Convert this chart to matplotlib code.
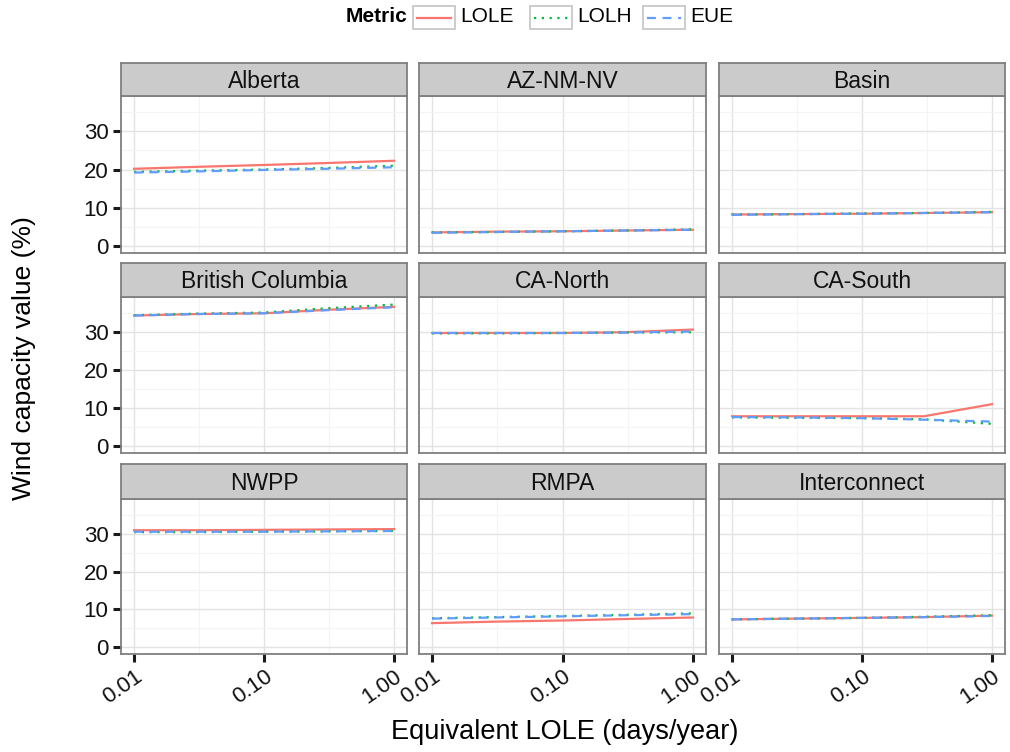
import matplotlib
matplotlib.use('Agg')
import matplotlib.pyplot as plt
from matplotlib.lines import Line2D
from matplotlib.patches import Rectangle

plt.rcParams['font.family'] = ['Liberation Sans', 'DejaVu Sans']

# equivalent LOLE levels (days/year)
lole_x = [0.01, 0.03, 0.1, 0.3, 1.0]
regions = ['Alberta', 'AZ-NM-NV', 'Basin',
           'British Columbia', 'CA-North', 'CA-South',
           'NWPP', 'RMPA', 'Interconnect']

# wind capacity value (%) per region, one list per metric
lole = [[20.2, 20.7, 21.2, 21.7, 22.3],
        [3.5, 3.7, 3.8, 4.0, 4.2],
        [8.2, 8.3, 8.4, 8.6, 8.8],
        [34.4, 34.8, 35.0, 35.9, 36.7],
        [29.8, 29.8, 29.8, 30.0, 30.7],
        [7.8, 7.8, 7.8, 7.8, 11.0],
        [31.0, 31.0, 31.1, 31.2, 31.3],
        [6.3, 6.7, 7.0, 7.4, 7.8],
        [7.3, 7.5, 7.7, 7.9, 8.3]]
lolh = [[19.4, 19.7, 20.0, 20.4, 21.0],
        [3.5, 3.6, 3.8, 4.0, 4.3],
        [8.2, 8.3, 8.5, 8.6, 8.9],
        [34.5, 34.9, 35.2, 36.3, 37.3],
        [29.7, 29.7, 29.8, 29.9, 30.0],
        [7.5, 7.4, 7.3, 7.0, 5.8],
        [30.5, 30.5, 30.6, 30.7, 30.8],
        [7.6, 7.9, 8.2, 8.5, 8.9],
        [7.3, 7.5, 7.7, 8.0, 8.4]]
eue = [[19.2, 19.5, 19.9, 20.2, 20.6],
       [3.4, 3.6, 3.8, 4.0, 4.2],
       [8.1, 8.3, 8.4, 8.6, 8.8],
       [34.4, 34.8, 35.0, 35.8, 36.6],
       [29.8, 29.8, 29.8, 29.9, 30.2],
       [7.6, 7.5, 7.3, 6.9, 6.4],
       [30.6, 30.6, 30.6, 30.7, 30.8],
       [7.5, 7.8, 8.1, 8.4, 8.7],
       [7.3, 7.5, 7.7, 7.9, 8.2]]

metrics = ['LOLE', 'LOLH', 'EUE']
colors = ['#F8766D', '#00BA38', '#619CFF']
styles = ['-', (0, (1, 2.5)), (0, (4, 3))]

W, H = 1010, 752
fig = plt.figure(figsize=(W / 100, H / 100), dpi=100)

def box(x0, y0, x1, y1):
    # pixel box (top-left origin) -> figure fraction
    return [x0 / W, 1 - y1 / H, (x1 - x0) / W, (y1 - y0) / H]

cols = [(121, 407), (419, 706), (719, 1005)]
rows = [(63, 96, 253), (263, 297, 453), (464, 499, 654)]

for i, name in enumerate(regions):
    r, c = divmod(i, 3)
    x0, x1 = cols[c]
    st, pt, pb = rows[r]

    ax = fig.add_axes(box(x0, pt, x1, pb))
    for vals, col, ls in zip([lole[i], lolh[i], eue[i]], colors, styles):
        ax.plot(lole_x, vals, color=col, ls=ls, lw=1.6)
    ax.set_xscale('log')
    ax.set_xlim(10 ** -2.1, 10 ** 0.1)
    ax.set_ylim(-1.9, 39.3)
    ax.set_xticks([0.01, 0.1, 1.0])
    ax.set_xticks([10 ** -1.5, 10 ** -0.5], minor=True)
    ax.set_yticks([0, 10, 20, 30])
    ax.set_yticks([5, 15, 25, 35], minor=True)
    ax.grid(True, which='major', color='#E3E3E3', lw=1.0)
    ax.grid(True, which='minor', color='#F4F4F4', lw=0.8)
    ax.set_axisbelow(True)
    for s in ax.spines.values():
        s.set_color('#7F7F7F')
        s.set_linewidth(1.3)
    ax.tick_params(which='minor', length=0)
    ax.tick_params(which='major', length=6, width=2.2, color='#1A1A1A',
                   labelsize=16, labelcolor='#111111', pad=3)
    if c == 0:
        ax.set_yticklabels(['0', '10', '20', '30'])
    else:
        ax.set_yticklabels([])
        ax.tick_params(axis='y', length=0)
    if r == 2:
        ax.set_xticklabels(['0.01', '0.10', '1.00'], rotation=35,
                           ha='right', va='top', rotation_mode='anchor')
    else:
        ax.set_xticklabels([])
        ax.tick_params(axis='x', length=0)

    sax = fig.add_axes(box(x0, st, x1, pt))
    sax.set_facecolor('#CBCBCB')
    sax.set_xticks([])
    sax.set_yticks([])
    for s in sax.spines.values():
        s.set_color('#7F7F7F')
        s.set_linewidth(1.3)
    sax.text(0.5, 0.45, name, ha='center', va='center', fontsize=16.5,
             color='#111111', transform=sax.transAxes)

fig.text(24 / W, 1 - 358 / H, 'Wind capacity value (%)', rotation=90,
         ha='center', va='center', fontsize=19)
fig.text(565 / W, 1 - 732 / H, 'Equivalent LOLE (days/year)',
         ha='center', va='center', fontsize=19.5)

# legend on top
fig.text(407 / W, 1 - 17 / H, 'Metric', ha='right', va='center',
         fontsize=15, fontweight='bold')
key_x = [413, 530, 643]
for kx, m, col, ls in zip(key_x, metrics, colors, styles):
    fig.patches.append(Rectangle((kx / W, 1 - 29 / H), 42 / W, 23 / H,
                                 transform=fig.transFigure, facecolor='white',
                                 edgecolor='#C8C8C8', lw=1.3))
    fig.lines.append(Line2D([(kx + 4) / W, (kx + 38) / W], [1 - 17.5 / H] * 2,
                            transform=fig.transFigure, color=col, ls=ls, lw=1.6))
    fig.text((kx + 47) / W, 1 - 17 / H, m, ha='left', va='center', fontsize=15)

fig.savefig('out.png', dpi=100)
